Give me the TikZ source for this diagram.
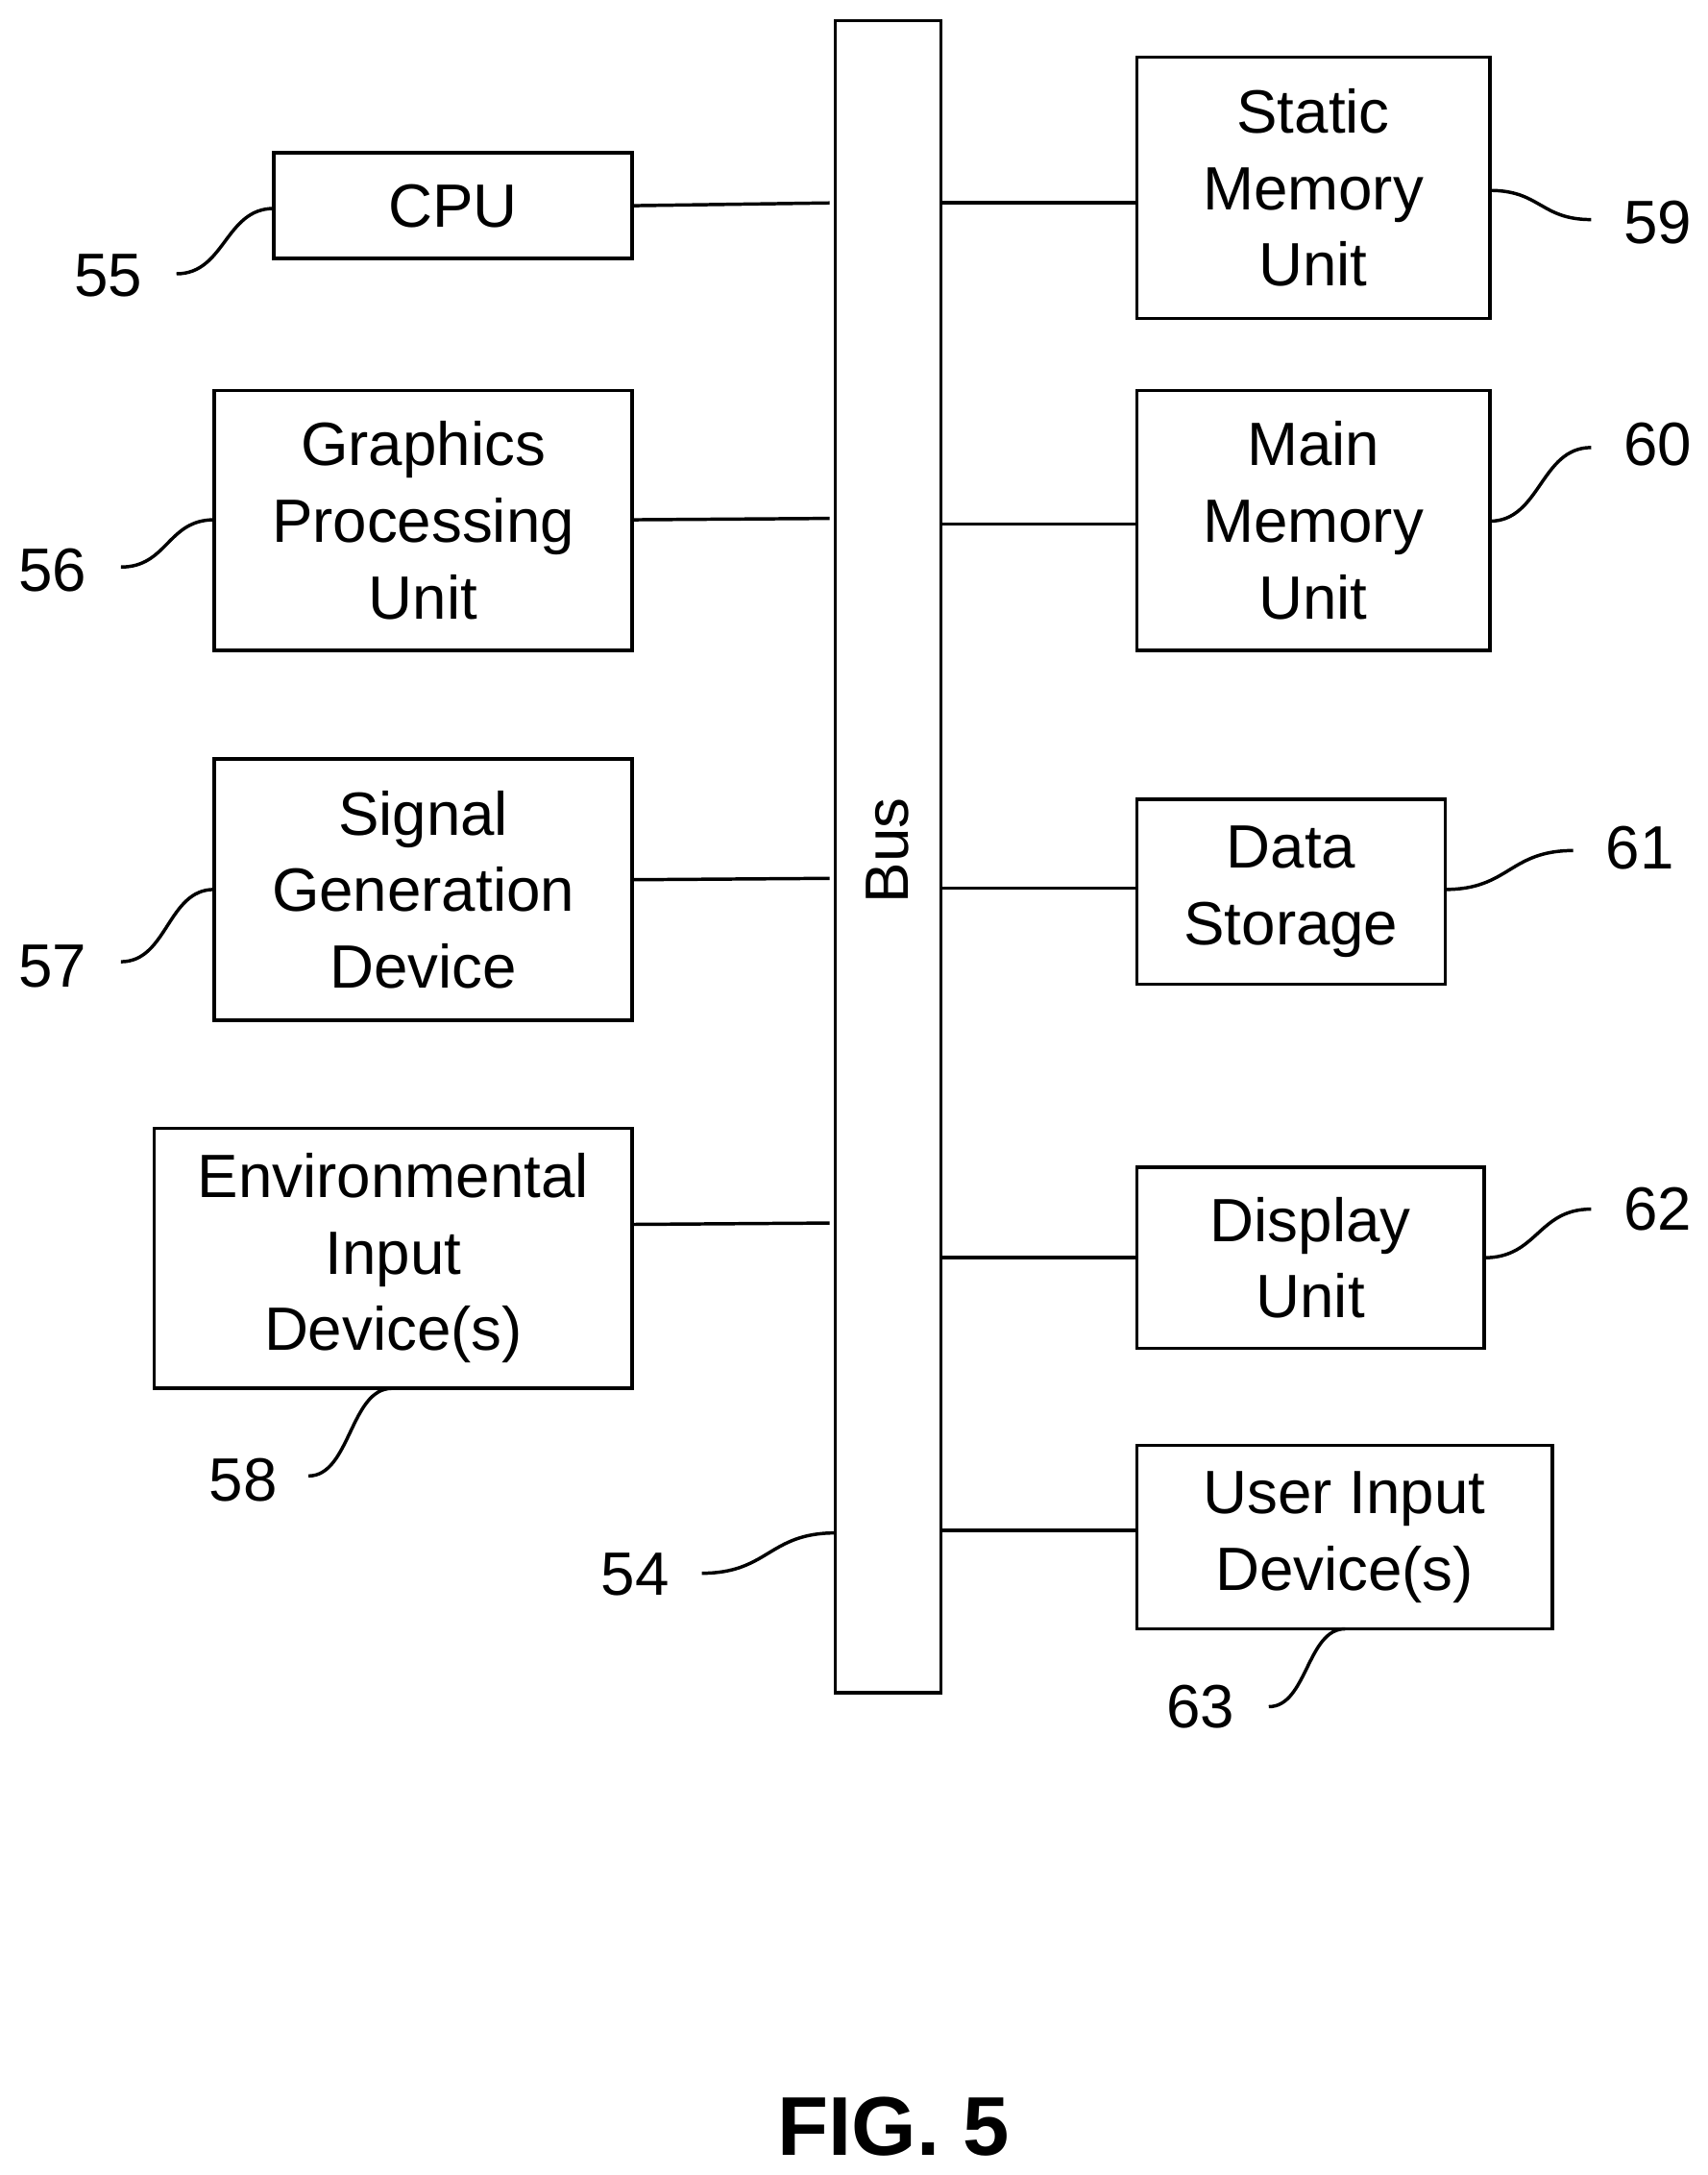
\documentclass[tikz,border=0pt]{standalone}
\usepackage{fontspec}
\setmainfont{Liberation Sans}
\begin{document}
\begin{tikzpicture}[x={(0.5pt,0)},y={(0,-0.5pt)},
  box/.style={draw,line width=1.2pt,inner sep=0pt},
  txt/.style={align=center,font=\fontsize{22}{27.5}\selectfont},
  num/.style={font=\fontsize{22}{26}\selectfont},
  ln/.style={line width=1.2pt}]
\useasboundingbox (0,0) rectangle (1229,1565);
\draw[box] (601,15) rectangle (677,1218);
\coordinate (busc) at (639,612);
\node[rotate=90,txt] (bus) at (busc) {Bus};
\foreach \n/\a/\b/\c/\d/\t in {cpu/197/110/455/186/CPU,
  gpu/154/281/455/468/{Graphics\\Processing\\Unit},
  sgd/154/546/455/734/{Signal\\Generation\\Device},
  env/111/812/455/999/{Environmental\\Input\\Device(s)},
  sm/818/41/1072/229/{Static\\Memory\\Unit},
  mm/818/281/1072/468/{Main\\Memory\\Unit},
  ds/818/575/1040/708/{Data\\Storage},
  du/818/840/1068/970/{Display\\Unit},
  ui/818/1040/1117/1172/{User Input\\Device(s)}}{
  \draw[box] (\a,\b) rectangle (\c,\d);
  \node[txt] (\n) at ({(\a+\c)/2},{(\b+\d)/2}) {\t};
}
\foreach \y/\z in {148/146,374/373,633/632,881/880}{
  \coordinate (l1) at (455,\y); \coordinate (l2) at (597,\z);
  \draw[ln] (l1) -- (l2);}
\foreach \y in {146,377,639,905,1101}{
  \coordinate (r1) at (677,\y); \coordinate (r2) at (818,\y);
  \draw[ln] (r1) -- (r2);}
\foreach \nx/\ny/\t/\sx/\sy/\ex/\ey in {
  78/198/55/127/197/197/150,
  38/410/56/87/408/154/374,
  38/695/57/87/692/154/640,
  175/1065/58/222/1062/282/999,
  457/1133/54/505/1132/601/1103,
  1193/160/59/1145/158/1072/137,
  1193/320/60/1145/322/1072/375,
  1180/610/61/1132/612/1040/640,
  1193/870/62/1145/870/1068/905,
  864/1228/63/913/1228/968/1172}{
  \node[num] (n\t) at (\nx,\ny) {\t};
  \coordinate (s\t) at (\sx,\sy); \coordinate (e\t) at (\ex,\ey);
  \draw[ln] (s\t) .. controls ({(\sx+\ex)/2},\sy) and ({(\sx+\ex)/2},\ey) .. (e\t);
}
\node[font=\fontsize{30}{36}\selectfont\bfseries] (fig) at (643,1530) {FIG. 5};
\end{tikzpicture}
\end{document}
